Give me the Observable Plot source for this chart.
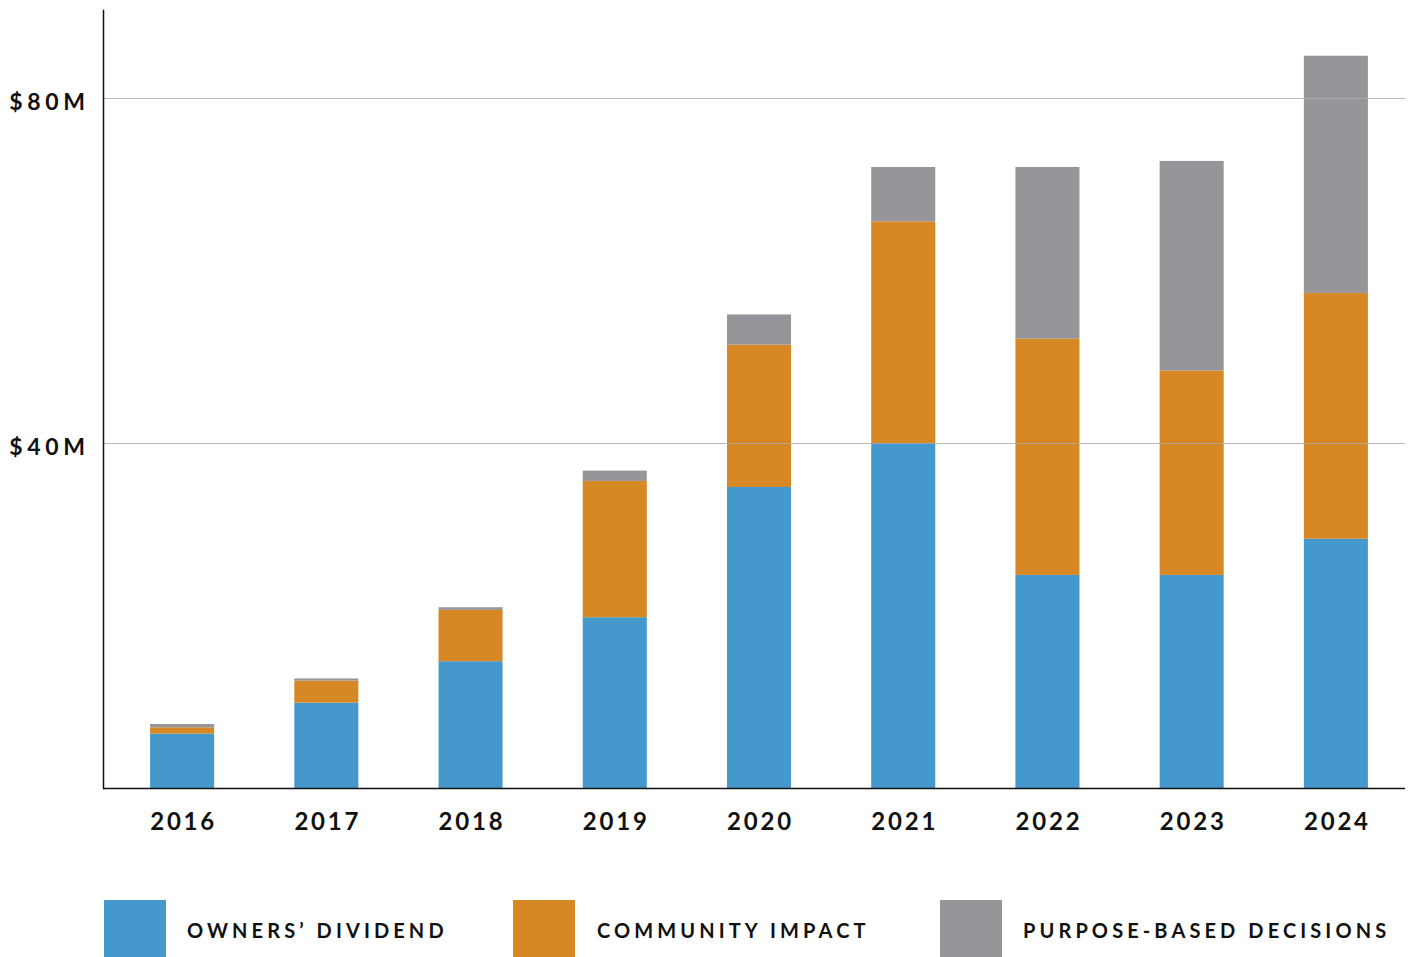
<!DOCTYPE html>
<html><head><meta charset="utf-8">
<script src="https://cdn.jsdelivr.net/npm/d3@7"></script>
<script src="https://cdn.jsdelivr.net/npm/@observablehq/plot@0.6"></script>
<style>
body{margin:0;background:#fff;font-family:Lato,"Noto Sans",sans-serif;color:#111;}
#chart svg{display:block;}
.chart text{letter-spacing:2.8px;}
.chart g[aria-label="y-axis tick label"] text{letter-spacing:4.6px;}
#legend{position:relative;height:97px;width:1409px;}
.sw{position:absolute;top:40px;width:62px;height:57px;}
.lt{position:absolute;top:42px;height:57px;line-height:57px;font-size:20px;font-weight:700;letter-spacing:4.1px;color:#111;white-space:nowrap;}
</style></head><body>
<div id="chart"></div>
<div id="legend"></div>
<script>
const years = ["2016","2017","2018","2019","2020","2021","2022","2023","2024"];
const ownersDividend  = [6.3, 9.9, 14.7, 19.8, 34.9, 40.0, 24.7, 24.7, 28.9];
const communityImpact = [0.74, 2.55, 5.95, 15.8, 16.5, 25.7, 27.4, 23.7, 28.5];
const purposeBased    = [0.38, 0.25, 0.31, 1.2, 3.5, 6.3, 19.9, 24.3, 27.5];
const seriesNames = ["OWNERS’ DIVIDEND", "COMMUNITY IMPACT", "PURPOSE-BASED DECISIONS"];
const seriesColors = ["#4598CB", "#D58824", "#96969A"];
const yTicks = [40, 80];

const seriesValues = [ownersDividend, communityImpact, purposeBased];
const data = [];
seriesNames.forEach((s, k) => years.forEach((y, i) => data.push({year: y, series: s, value: seriesValues[k][i]})));

const W = 1409, H = 860;
const plot = Plot.plot({
  width: W, height: H,
  marginLeft: 103, marginRight: 4, marginTop: 10, marginBottom: 72,
  className: "chart",
  style: {fontFamily: "Lato, 'Noto Sans', sans-serif", color: "#111", background: "#fff"},
  x: {domain: years, range: [110, 1408], round: false, paddingInner: 0.556, paddingOuter: 0.278, label: null},
  y: {domain: [0, 90.2], label: null},
  color: {domain: seriesNames, range: seriesColors},
  marks: [
    Plot.barY(data, {x: "year", y: "value", fill: "series"}),
    Plot.ruleY(yTicks, {stroke: "#aaa", strokeOpacity: 0.85, strokeWidth: 1}),
    Plot.ruleY([0], {stroke: "#111", strokeWidth: 1.5}),
    Plot.frame({anchor: "left", stroke: "#111", strokeWidth: 1.5}),
    Plot.axisY({ticks: yTicks, tickFormat: d => `$${d}M`, tickSize: 0, tickPadding: 14, fontSize: 23, fontWeight: 700, dy: 4, label: null}),
    Plot.axisX({tickSize: 0, tickPadding: 24, fontSize: 24, fontWeight: 700, dx: 1, label: null})
  ]
});
document.getElementById("chart").appendChild(plot);

const legend = document.getElementById("legend");
const swLeft = [104, 513, 940];
const txtLeft = [187, 597, 1023];
seriesNames.forEach((s, k) => {
  const sw = document.createElement("div");
  sw.className = "sw"; sw.style.left = swLeft[k] + "px"; sw.style.background = seriesColors[k];
  legend.appendChild(sw);
  const t = document.createElement("div");
  t.className = "lt"; t.style.left = txtLeft[k] + "px"; t.textContent = s;
  legend.appendChild(t);
});
</script>
</body></html>
